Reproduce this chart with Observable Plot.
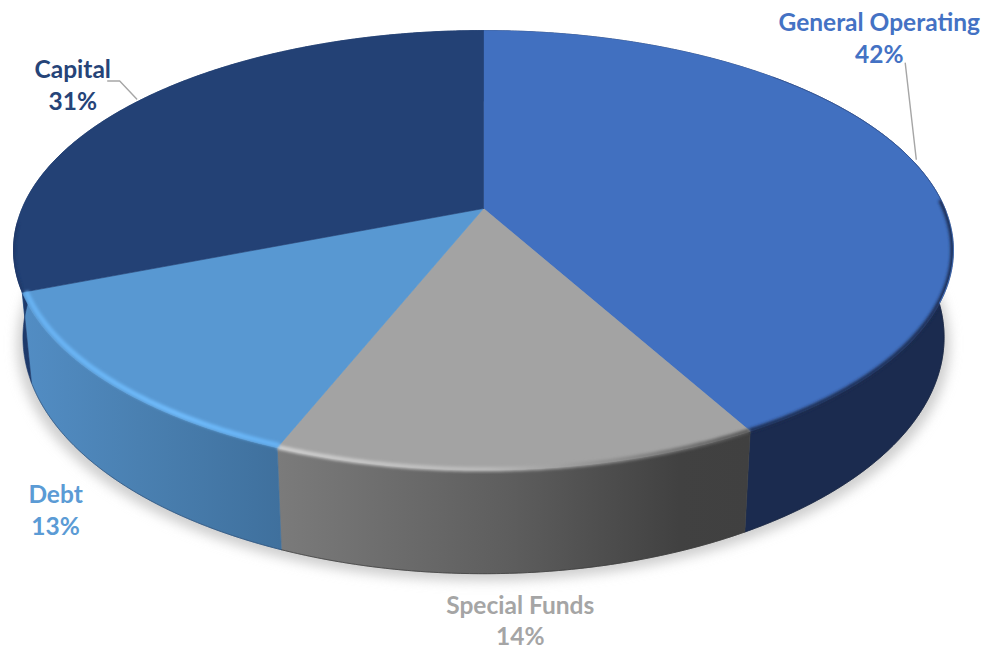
<!DOCTYPE html>
<html>
<head>
<meta charset="utf-8">
<style>
  html, body { margin: 0; padding: 0; background: #fff; }
  svg { display: block; }
</style>
<script src="https://cdn.jsdelivr.net/npm/d3@7"></script>
<script src="https://cdn.jsdelivr.net/npm/@observablehq/plot@0.6"></script>
</head>
<body>
<script>
// Budget shares by fund, in percent, clockwise from twelve o'clock.
const categories = ["General Operating", "Special Funds", "Debt", "Capital"];
const shares = [42, 14, 13, 31];

// Colours of the top faces and label text.
const faceColors = ["#4170c0", "#a3a3a3", "#5898d2", "#234175"];
const labelColors = ["#4472c4", "#a5a5a5", "#5b9bd5", "#264478"];

// Offsets of each two-line label from the rim point at its slice's mid angle.
const labelOffsets = [[-31, -121], [1, 150], [-51, 127], [-66, -17]];

// Leader vertices relative to the same rim point; empty where no leader is drawn.
const leaderPaths = [[[6, 1], [-5, -95]], [], [], [[-2, -2], [-19, -20], [-31, -20]]];

// Disc perspective: pivot, scale, foreshortening and wall depth.
const pivot = {x: 483, y: 208};
const scaleX = 461.4, scaleY = 211.8, tilt = 0.19;
const wallDepth = 84, wallTaper = 0.98;

function project(angle, radius = 1, lowered = false) {
  const X = radius * Math.sin(angle), Y = radius * Math.cos(angle);
  const w = 1 + tilt * Y;
  let x = pivot.x + scaleX * X / w;
  let y = pivot.y - scaleY * Y / w;
  if (lowered) {
    x = pivot.x + (x - pivot.x) * wallTaper;
    y += wallDepth / w;
  }
  return {x, y};
}

function arc(a0, a1, radius = 1, lowered = false) {
  const steps = Math.max(2, Math.ceil(Math.abs(a1 - a0) / 0.008));
  return d3.range(steps + 1).map(i => project(a0 + (a1 - a0) * i / steps, radius, lowered));
}

const slices = d3.pie().sort(null).value(d => d)(shares).map((d, i) => ({
  name: categories[i],
  share: shares[i],
  a0: d.startAngle,
  a1: d.endAngle,
  mid: (d.startAngle + d.endAngle) / 2,
  color: faceColors[i],
  labelColor: labelColors[i],
  labelOffset: labelOffsets[i],
  leader: leaderPaths[i]
}));

const fullTurn = 2 * Math.PI;
const closed = pts => [...pts, pts[0]];
const toPath = pts => "M" + pts.map(p => `${p.x},${p.y}`).join("L") + "Z";

// Gradients, blur filters and the silhouette clip shared by the marks below.
function buildDefs() {
  const defs = d3.create("svg:defs");
  const gradient = (id, stops) => {
    const g = defs.append("linearGradient").attr("id", id)
      .attr("x1", 0).attr("x2", 1).attr("y1", 0).attr("y2", 0);
    stops.forEach(([o, c]) => g.append("stop").attr("offset", o).attr("stop-color", c));
  };
  gradient("wall-special", [[0, "#7b7b7b"], [0.5, "#5d5d5d"], [0.85, "#414141"], [1, "#404040"]]);
  gradient("wall-debt", [[0, "#528dc4"], [0.45, "#4a80b1"], [1, "#3f709d"]]);
  gradient("rim-special", [[0, "#d0d0d0"], [0.45, "#b9b9b9"], [0.72, "#8c8c8c"], [1, "#585858"]]);
  gradient("rim-debt", [[0, "#68b2f2"], [0.6, "#6fbbfb"], [1, "#66b2f4"]]);
  const blur = (id, dev) => defs.append("filter").attr("id", id)
    .attr("x", "-10%").attr("y", "-10%").attr("width", "120%").attr("height", "120%")
    .append("feGaussianBlur").attr("stdDeviation", dev);
  blur("soft-shadow", 6);
  blur("soft-rim", 1.6);
  const clip = defs.append("clipPath").attr("id", "disc-outline");
  clip.append("path").attr("d", toPath(arc(0, fullTurn)));
  clip.append("path").attr("d", toPath([...arc(0, fullTurn), ...arc(fullTurn, 0, 1, true)]));
  return defs.node();
}

const withAttrs = attrs => (index, scales, values, dims, context, next) => {
  const g = next(index, scales, values, dims, context);
  Object.entries(attrs).forEach(([k, v]) => g.setAttribute(k, v));
  return g;
};

const area = (pts, fill, extra = {}) =>
  Plot.line(closed(pts), {x: "x", y: "y", fill, stroke: fill, strokeWidth: 0.6, curve: "linear", ...extra});

const wallFill = {"Special Funds": "url(#wall-special)", "Debt": "url(#wall-debt)"};
const wallFlat = {"General Operating": "#1b2b4f", "Capital": "#1e3a6b"};

const rimStyles = {
  "General Operating": {stroke: "#1b2b4f", width: 4, inset: 0.998, from: 0.58},
  "Special Funds": {stroke: "url(#rim-special)", width: 4.5, inset: 0.998},
  "Debt": {stroke: "url(#rim-debt)", width: 5, inset: 0.992},
  "Capital": {stroke: "#1c3665", width: 3, inset: 1, to: 0.16}
};

// Darker line where the wall meets the ground on the front slices.
const baseEdges = {"Special Funds": "#3a3a3a", "Debt": "#2c4f78", "General Operating": "#17243f"};

const marks = [
  buildDefs,

  // Soft shadow on the ground under the disc.
  area(arc(0, fullTurn, 1, true).map(p => ({x: pivot.x + (p.x - pivot.x) * 1.012, y: p.y + 7})), "#cfcfcf", {
    render: withAttrs({filter: "url(#soft-shadow)"})
  }),

  // Outer walls.
  ...slices.map(s => area(
    [...arc(s.a0, s.a1), ...arc(s.a1, s.a0, 1, true)],
    wallFill[s.name] ?? wallFlat[s.name]
  )),

  // Base edge of the walls.
  ...slices.filter(s => baseEdges[s.name]).map(s => {
    const start = s.name === "General Operating" ? s.a0 + 0.6 * (s.a1 - s.a0) : s.a0;
    return Plot.line(arc(start, s.a1, 1, true), {
      x: "x", y: "y", stroke: baseEdges[s.name], strokeWidth: 1, strokeOpacity: 0.7, curve: "linear"
    });
  }),

  // Top faces.
  ...slices.map(s => area([pivot, ...arc(s.a0, s.a1)], s.color)),

  // Fine edge along the far part of the largest slice.
  Plot.line(arc(slices[0].a0 + 0.3 * (slices[0].a1 - slices[0].a0), slices[0].a0 + 0.6 * (slices[0].a1 - slices[0].a0)), {
    x: "x", y: "y", stroke: "#2d4a86", strokeWidth: 1, strokeOpacity: 0.6, curve: "linear"
  }),

  // Bevelled rim along each slice's outer edge.
  ...slices.map(s => {
    const r = rimStyles[s.name];
    const a0 = s.a0 + (r.from ?? 0) * (s.a1 - s.a0);
    const a1 = s.a1 - (r.to ? (1 - r.to) * (s.a1 - s.a0) : 0);
    return Plot.line(arc(a0, a1, r.inset), {
      x: "x", y: "y", stroke: r.stroke, strokeWidth: r.width, curve: "linear", strokeLinecap: "butt",
      render: (index, scales, values, dims, context, next) => {
        const g = next(index, scales, values, dims, context);
        const outer = document.createElementNS("http://www.w3.org/2000/svg", "g");
        outer.setAttribute("clip-path", "url(#disc-outline)");
        g.setAttribute("filter", "url(#soft-rim)");
        outer.appendChild(g);
        return outer;
      }
    });
  }),

  // Leader lines from the rim to the two callout labels.
  ...slices.filter(s => s.leader.length).map(s => {
    const rim = project(s.mid);
    return Plot.line(s.leader.map(([dx, dy]) => ({x: rim.x + dx, y: rim.y + dy})), {
      x: "x", y: "y", stroke: "#a6a6a6", strokeWidth: 1.4, curve: "linear"
    });
  }),

  // Name and share labels.
  ...slices.map(s => {
    const rim = project(s.mid);
    return Plot.text([s], {
      x: () => rim.x + s.labelOffset[0],
      y: () => rim.y + s.labelOffset[1],
      text: d => `${d.name}\n${d.share}%`,
      fill: s.labelColor,
      fontFamily: "Lato",
      fontWeight: 700,
      fontSize: 24.5,
      lineHeight: 1.3,
      textAnchor: "middle"
    });
  })
];

const chart = Plot.plot({
  width: 983,
  height: 651,
  margin: 0,
  style: {background: "#fff", overflow: "visible"},
  x: {domain: [0, 983], range: [0, 983], axis: null},
  y: {domain: [0, 651], range: [0, 651], axis: null},
  marks
});
document.body.appendChild(chart);
</script>
</body>
</html>
